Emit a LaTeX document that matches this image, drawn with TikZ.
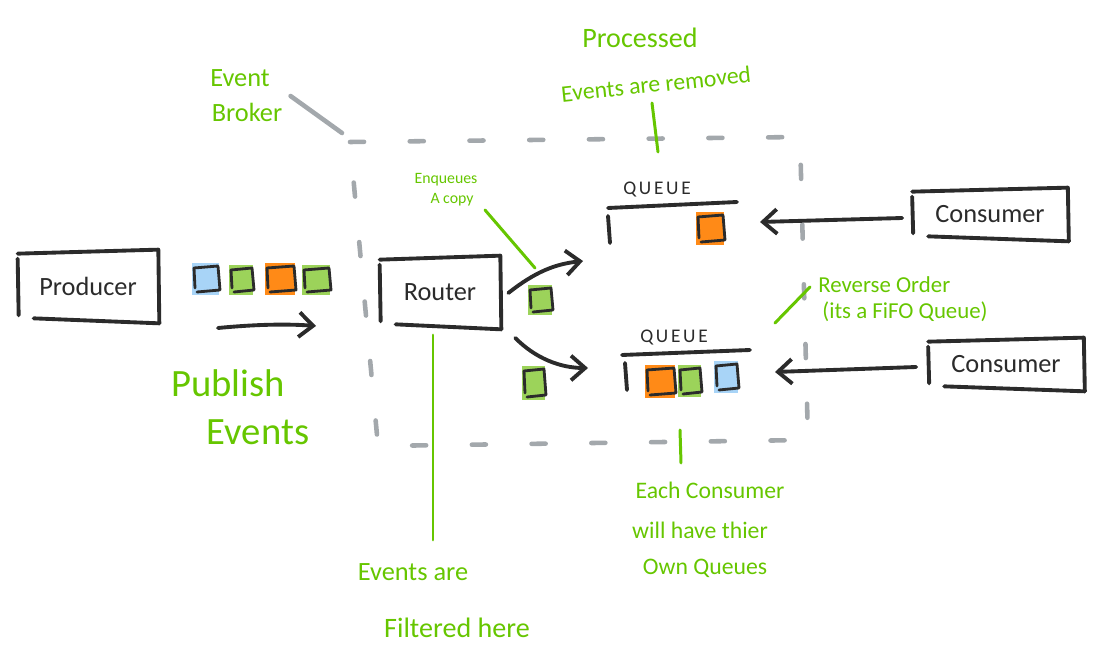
\documentclass[tikz,border=0pt]{standalone}
\usepackage{fontspec}
\setmainfont{Carlito}
\usetikzlibrary{arrows.meta,calc}
\definecolor{hgreen}{HTML}{66C600}
\definecolor{sqgreen}{HTML}{9CD35A}
\definecolor{sqorange}{HTML}{FF8A17}
\definecolor{sqblue}{HTML}{A8D4F7}
\definecolor{ink}{HTML}{2B2B2B}
\definecolor{brk}{HTML}{A3A8AC}
\newcommand\fs[1]{\fontsize{#1}{#1}\selectfont}
\newcommand\evsq[5]{%
  \fill[#5] (#1,#2) rectangle ({#1+#3},{#2+#4});
  \draw[sqline] ({#1+2},{#2+5}) -- ({#1+#3-1},{#2+3}) -- ({#1+#3+1},{#2+#4-5}) -- ({#1+5},{#2+#4-3});
  \draw[sqline] ({#1+2},{#2+5}) -- ({#1+3},{#2+#4-7});
}
\newcommand\sketchbox[1]{%
  \draw[inkline] ($(#1.north west)+(0,3)$) -- ($(#1.north east)+(0,-1)$) -- ($(#1.south east)+(1,2)$);
  \draw[inkline] ($(#1.north west)+(0,8)$) -- ($(#1.south west)+(1,-6)$);
  \draw[inkline] ($(#1.south west)+(16,-3)$) -- ($(#1.south east)+(1,2)$);
}
\begin{document}
\begin{tikzpicture}[x=0.02cm,y=-0.02cm,
  inkline/.style={draw=ink, line width=2.2pt, line cap=round, line join=round},
  sqline/.style={draw=ink, line width=1.6pt, line cap=round, line join=round},
  noteline/.style={draw=hgreen, line width=1.7pt, line cap=round},
  gtext/.style={text=hgreen, inner sep=0pt},
  boxnode/.style={inner sep=0pt, text=ink},
  qlabel/.style={inner sep=0pt, text=ink, font=\fs{11}\addfontfeature{LetterSpace=14}},
  barb/.style={-{Straight Barb[length=8pt,width=14pt]}},
  brokerline/.style={draw=brk, line width=2.6pt, line cap=round, dash pattern=on 8pt off 26pt}]
\useasboundingbox (0,0) rectangle (1096,658);

% event broker boundary
\draw[brokerline] (350,142) -- (800,137) -- (808,440) -- (378,446) -- cycle;
\node[gtext, font=\fs{15}] (evb1) at (240,78) {Event};
\node[gtext, font=\fs{15}] (evb2) at (247,112) {Broker};
\coordinate (brkc) at (342,133);
\draw[draw=brk, line width=2.6pt, line cap=round] (evb2.east) ++(8,-16) -- (brkc);

% boxes
\node[boxnode, minimum width=2.8cm, minimum height=1.4cm, font=\fs{15}] (prod) at (88,286) {Producer};
\sketchbox{prod}
\node[boxnode, minimum width=2.4cm, minimum height=1.4cm, font=\fs{15}] (rout) at (440,292) {Router};
\sketchbox{rout}
\node[boxnode, minimum width=3.1cm, minimum height=1.0cm, font=\fs{15}] (cons1) at (990,214) {Consumer};
\sketchbox{cons1}
\node[boxnode, minimum width=3.1cm, minimum height=1.0cm, font=\fs{15}] (cons2) at (1006,364) {Consumer};
\sketchbox{cons2}

% queues
\node[qlabel] (q1lab) at (657,190) {QUEUE};
\draw[inkline] (608,208) -- (737,202);
\draw[inkline] (608,216) -- (610,243);
\node[qlabel] (q2lab) at (674,338) {QUEUE};
\draw[inkline] (622,355) -- (750,350);
\draw[inkline] (625,363) -- (627,390);

% events
\evsq{192}{263}{27}{32}{sqblue}
\evsq{229}{265}{24}{30}{sqgreen}
\evsq{265}{263}{30}{32}{sqorange}
\evsq{302}{265}{28}{30}{sqgreen}
\evsq{528}{285}{24}{30}{sqgreen}
\evsq{522}{366}{23}{34}{sqgreen}
\evsq{696}{212}{28}{33}{sqorange}
\evsq{645}{365}{30}{33}{sqorange}
\evsq{678}{365}{23}{32}{sqgreen}
\evsq{714}{361}{24}{32}{sqblue}

% arrows
\coordinate (pubs) at (218,328);
\coordinate (pube) at (316,326);
\draw[inkline, barb] (pubs) .. controls (260,324) and (290,324) .. (pube);
\coordinate (q1in) at (583,261);
\coordinate (q2in) at (588,368);
\draw[inkline, barb] (rout.east) ++(8,1) .. controls (535,272) and (555,264) .. (q1in);
\draw[inkline, barb] (rout.east) ++(15,46) .. controls (535,358) and (560,368) .. (q2in);
\coordinate (q1out) at (760,222);
\coordinate (q2out) at (775,372);
\draw[inkline, barb] (cons1.west) ++(-10,4) -- (q1out);
\draw[inkline, barb] (cons2.west) ++(-12,3) -- (q2out);

% annotations
\node[gtext, font=\fs{16}] (proc1) at (640,38) {Processed};
\node[gtext, font=\fs{13.5}, rotate=6] (proc2) at (656,84) {Events are removed};
\coordinate (procE) at (658,152);
\draw[noteline] (652,103) -- (procE);

\node[gtext, font=\fs{9}] (enq1) at (446,180) {Enqueues};
\node[gtext, font=\fs{9}] (enq2) at (452,200) {A copy};
\coordinate (enqE) at (535,268);
\draw[noteline] (485,210) -- (enqE);

\node[gtext, font=\fs{13}, anchor=west] (rev1) at (818,285) {Reverse Order};
\node[gtext, font=\fs{13}, anchor=west] (rev2) at (822,312) {(its a FiFO Queue)};
\coordinate (revE) at (775,323);
\draw[noteline] (810,287) -- (revE);

\node[gtext, font=\fs{22}] (pub1) at (228,383) {Publish};
\node[gtext, font=\fs{22}] (pub2) at (258,432) {Events};

\coordinate (filtS) at (433,335);
\draw[noteline] (filtS) -- (433,540);
\node[gtext, font=\fs{15}] (filt1) at (413,572) {Events are};
\node[gtext, font=\fs{16}] (filt2) at (457,628) {Filtered here};

\coordinate (eachS) at (680,430);
\draw[noteline] (eachS) -- (681,463);
\node[gtext, font=\fs{13.5}] (each1) at (710,490) {Each Consumer};
\node[gtext, font=\fs{13.5}] (each2) at (700,530) {will have thier};
\node[gtext, font=\fs{13.5}] (each3) at (705,568) {Own Queues};
\end{tikzpicture}
\end{document}
